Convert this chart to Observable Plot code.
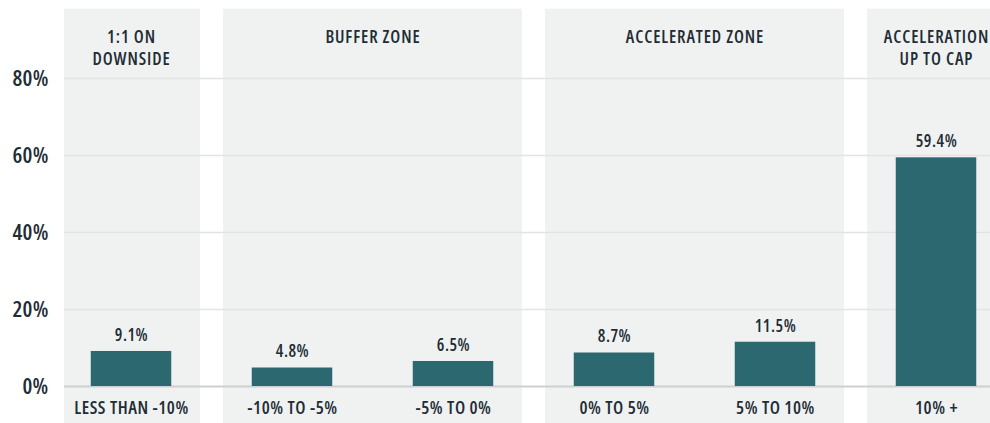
<!DOCTYPE html>
<html>
<head>
<meta charset="utf-8">
<script src="https://cdn.jsdelivr.net/npm/d3@7"></script>
<script src="https://cdn.jsdelivr.net/npm/@observablehq/plot@0.6"></script>
<style>
  html, body { margin: 0; padding: 0; background: #fff; overflow: hidden; }
  #chart svg text { font-stretch: 75%; }
</style>
</head>
<body>
<div id="chart"></div>
<script>
const categories = ["LESS THAN -10%", "-10% TO -5%", "-5% TO 0%", "0% TO 5%", "5% TO 10%", "10% +"];
const values = [9.1, 4.8, 6.5, 8.7, 11.5, 59.4];
const zoneNames = ["1:1 ON\nDOWNSIDE", "BUFFER ZONE", "ACCELERATED ZONE", "ACCELERATION\nUP TO CAP"];
const zoneFirst = [0, 1, 3, 5];
const zoneLast = [0, 2, 4, 5];
const yTicks = [0, 20, 40, 60, 80];

const bars = categories.map((c, i) => ({i, category: c, value: values[i]}));
const zones = zoneNames.map((name, k) => ({name, first: zoneFirst[k], last: zoneLast[k]}));

const FONT = "'Open Sans', Lato, sans-serif";
const INK = "#1f2d35";

const chart = Plot.plot({
  width: 990,
  height: 423,
  marginTop: 0,
  marginBottom: 0,
  marginLeft: 64,
  marginRight: 0,
  style: {fontFamily: FONT, background: "#fff", color: INK},
  x: {type: "linear", domain: [-0.5, 5.5], range: [50.5, 1016.5], axis: null},
  y: {domain: [0, 80], range: [386, 78], axis: null},
  marks: [
    // zone panels
    Plot.rect(zones, {
      x1: d => d.first - 0.5, x2: d => d.last + 0.5,
      y1: -12, y2: 98,
      insetLeft: 11.5, insetRight: 11.5,
      fill: "#f0f2f2", clip: true
    }),
    // gridlines
    Plot.ruleY(yTicks.filter(d => d !== 0), {stroke: "#e1e4e4", strokeWidth: 1.5}),
    Plot.ruleY([0], {stroke: "#cdd0d0", strokeWidth: 2}),
    // y tick labels
    Plot.text(yTicks, {
      y: d => d, text: d => d + "%", frameAnchor: "left", dx: -16,
      textAnchor: "end", fontSize: 22, fontWeight: 600, fill: INK
    }),
    // bars
    Plot.rect(bars, {
      x1: d => d.i - 0.25, x2: d => d.i + 0.25,
      y1: 0, y2: "value", fill: "#2b6870"
    }),
    // value labels
    Plot.text(bars, {
      x: "i", y: "value", text: d => d.value.toFixed(1) + "%",
      lineAnchor: "middle", dy: -16, fontSize: 17, fontWeight: 600, fill: INK
    }),
    // category labels
    Plot.text(bars, {
      x: "i", y: 0, text: "category",
      lineAnchor: "middle", dy: 22, fontSize: 18, fontWeight: 600, fill: INK
    }),
    // zone headers
    Plot.text(zones, {
      x: d => (d.first + d.last) / 2, text: "name",
      frameAnchor: "top", lineAnchor: "top", dy: 26, lineHeight: 1.3,
      fontSize: 17.5, fontWeight: 600, fill: INK
    })
  ]
});
// letter spacing per text mark (y labels, value labels, category labels, headers)
const spacing = ["0.2px", "0.5px", "0.55px", "0.9px"];
d3.select(chart).selectAll('g[aria-label="text"]').each(function(_, k) {
  d3.select(this).attr("letter-spacing", spacing[k]);
});
document.getElementById("chart").appendChild(chart);
</script>
</body>
</html>
